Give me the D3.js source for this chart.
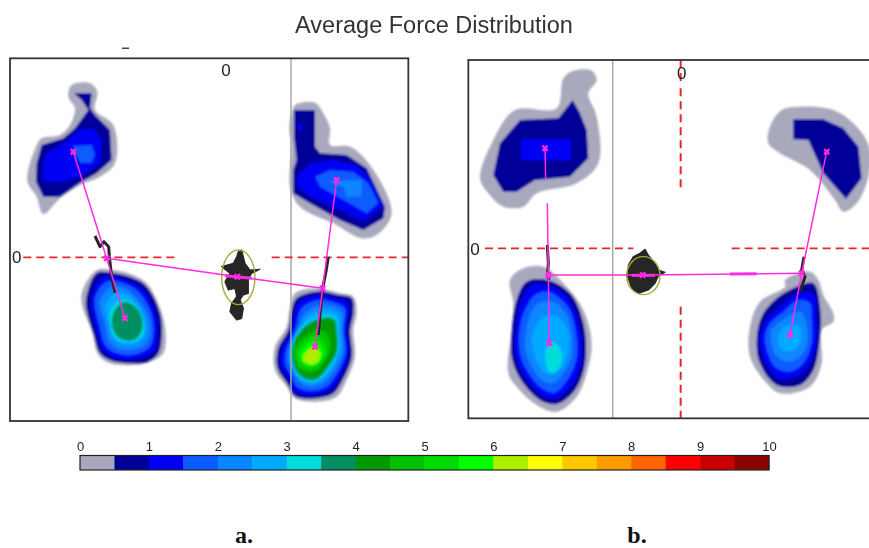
<!DOCTYPE html>
<html><head><meta charset="utf-8">
<script src="https://cdn.jsdelivr.net/npm/d3@7"></script>
<style>html,body{margin:0;padding:0;background:#fff;overflow:hidden}svg{display:block}</style>
</head><body>
<svg id="chart" width="869" height="548"></svg>
<script>
// Colour scale: 20 half-unit force bins from 0 to 10
const forceTicks = [0,1,2,3,4,5,6,7,8,9,10];
const forceBins = ["#a9a9bd","#000099","#0000f5","#0a5cff","#0a86ff","#00aaff","#00dcdc","#008f60","#009a00","#00c000","#00dc00","#00ff00","#aaf000","#ffff00","#ffc800","#ff9a00","#ff6400","#ff0000","#c80000","#8c0000"];

// Pressure contours in grid units (3 per px), [bin, outline]. Bottom-row grids start 540 units lower.
const aTopLeft = [
 [0,[[215,105],[270,100],[292,125],[285,180],[340,225],[345,340],[300,380],[240,405],[180,445],[130,492],[110,440],[82,392],[108,290],[125,265],[180,255],[210,225],[225,175],[205,140]]],
 [1,[[222,130],[275,130],[270,175],[285,195],[330,240],[335,330],[290,370],[245,395],[180,440],[130,440],[108,395],[110,340],[125,285],[190,265],[225,235],[265,180],[245,150]]],
 [2,[[140,310],[190,280],[240,240],[280,235],[305,270],[300,340],[240,380],[190,395],[130,395],[130,340]]],
 [3,[[222,288],[275,285],[285,315],[275,338],[240,338],[225,310]]]
];
const aTopRight = [
 [0,[[885,165],[945,158],[970,190],[990,235],[990,285],[1050,290],[1110,345],[1175,490],[1130,555],[1085,565],[1000,520],[900,470],[870,410],[875,290],[868,230],[878,180]]],
 [1,[[882,180],[945,180],[945,290],[960,310],[1040,315],[1100,355],[1155,470],[1150,505],[1090,540],[1020,510],[930,460],[880,430],[880,360],[890,330],[882,260]]],
 [2,[[893,222],[905,222],[905,240],[893,240]]],
 [2,[[890,380],[930,340],[1000,330],[1070,345],[1110,385],[1150,470],[1090,515],[1030,485],[930,440],[895,410]]],
 [3,[[945,380],[990,360],[1060,365],[1105,400],[1135,460],[1100,490],[1040,455],[960,410]]],
 [4,[[995,392],[1085,390],[1085,440],[1040,440],[1030,410],[995,400]]]
];
const aBottomLeft = [
 [0,[[245,190],[290,120],[340,120],[400,135],[440,160],[470,210],[495,290],[490,370],[450,395],[400,405],[330,400],[295,375],[275,300],[250,240]]],
 [1,[[258,210],[290,130],[340,130],[400,145],[440,170],[480,250],[485,320],[475,370],[445,395],[390,400],[330,390],[300,370],[280,310],[262,250]]],
 [2,[[275,200],[310,140],[390,155],[430,180],[465,250],[472,320],[460,365],[395,388],[335,380],[305,355],[290,305]]],
 [3,[[285,205],[320,155],[385,165],[420,190],[455,255],[460,320],[445,355],[395,375],[345,368],[315,345],[300,295]]],
 [4,[[300,215],[335,170],[380,178],[410,205],[445,260],[450,315],[435,345],[395,360],[350,355],[325,330],[315,285]]],
 [5,[[315,230],[345,190],[385,195],[415,225],[435,265],[438,310],[420,335],[390,345],[355,340],[335,320],[325,280]]],
 [6,[[330,245],[360,210],[395,215],[420,245],[432,280],[425,320],[395,335],[360,332],[340,315],[330,280]]],
 [7,[[338,255],[365,218],[395,222],[420,250],[428,285],[415,320],[385,332],[355,322],[338,295]]]
];
const aBottomRight = [
 [0,[[885,190],[950,175],[1020,190],[1060,200],[1070,250],[1060,300],[1065,380],[1040,450],[1010,500],[950,515],[885,505],[860,470],[825,420],[825,350],[860,290],[870,230]]],
 [1,[[890,205],[950,185],[1015,195],[1055,205],[1060,250],[1050,300],[1055,380],[1030,445],[1000,490],[945,505],[885,498],[865,465],[832,410],[835,355],[865,300],[875,240]]],
 [2,[[895,220],[950,195],[1010,205],[1045,220],[1040,300],[1045,375],[1020,440],[990,480],[940,495],[885,485],[870,450],[842,405],[845,360],[875,300]]],
 [3,[[905,235],[955,210],[1005,218],[1035,235],[1032,300],[1037,370],[1012,430],[980,470],[935,483],[890,470],[875,440],[855,400],[858,360],[885,300]]],
 [4,[[915,250],[960,225],[1005,230],[1028,250],[1026,300],[1030,365],[1005,420],[970,460],[930,470],[895,455],[880,425],[865,390],[868,355],[890,305]]],
 [5,[[920,262],[965,240],[1005,245],[1020,265],[1020,310],[1022,360],[998,415],[960,452],[930,460],[895,445],[878,415],[868,375],[878,335],[905,285]]],
 [6,[[925,275],[975,255],[1005,262],[1014,310],[1015,360],[990,410],[955,450],[925,455],[892,435],[878,405],[872,370],[882,325],[905,290]]],
 [7,[[930,278],[975,262],[1003,268],[1011,310],[1012,360],[987,408],[952,447],[925,451],[895,432],[880,402],[875,365],[885,330],[908,295]]],
 [8,[[935,282],[980,266],[1002,272],[1009,320],[1009,360],[983,407],[945,443],[905,432],[883,398],[878,360],[890,322],[915,298]]],
 [9,[[925,312],[960,298],[985,315],[992,350],[975,392],[945,424],[912,424],[887,398],[882,362],[898,332]]],
 [10,[[918,330],[950,318],[975,340],[980,365],[960,402],[930,416],[902,404],[890,370]]],
 [11,[[922,345],[948,335],[968,355],[968,382],[948,405],[920,405],[902,385],[906,362]]],
 [12,[[925,360],[945,352],[960,370],[952,395],[930,402],[908,388]]]
];
const bTopLeft = [
 [0,[[310,85],[340,62],[395,62],[410,90],[385,130],[410,200],[415,340],[350,400],[230,430],[190,470],[130,470],[85,430],[60,385],[100,270],[165,180],[290,175]]],
 [1,[[338,150],[360,190],[380,240],[385,325],[330,380],[225,390],[170,425],[130,425],[100,375],[120,280],[180,210],[295,205]]],
 [2,[[183,268],[333,268],[333,330],[183,330]]]
];
const bTopRight = [
 [0,[[930,230],[965,180],[1020,170],[1120,180],[1180,220],[1227,290],[1225,380],[1190,460],[1150,485],[1125,450],[1050,360],[960,310],[925,280]]],
 [1,[[1000,208],[1090,208],[1150,235],[1195,290],[1205,385],[1158,447],[1090,370],[1045,270],[1000,268]]]
];
const bBottomLeft = [
 [0,[[150,150],[190,115],[250,110],[320,170],[370,240],[395,340],[380,430],[350,500],[290,545],[230,525],[170,470],[145,430],[155,300],[160,220]]],
 [1,[[170,210],[200,155],[260,150],[330,190],[370,280],[375,400],[345,480],[290,522],[240,510],[180,445],[155,380],[155,310]]],
 [2,[[185,210],[215,165],[260,165],[320,200],[355,280],[365,390],[335,465],[290,505],[245,495],[190,435],[165,370],[170,280]]],
 [3,[[195,240],[225,195],[265,185],[320,225],[345,290],[350,385],[325,445],[285,488],[245,475],[200,420],[180,370],[180,290]]],
 [4,[[205,270],[235,220],[280,215],[320,255],[335,310],[335,380],[310,430],[280,460],[245,450],[210,400],[195,355]]],
 [5,[[225,290],[260,255],[300,265],[325,310],[322,380],[300,420],[275,435],[245,420],[225,380],[215,330]]],
 [6,[[258,360],[275,335],[297,350],[307,385],[292,422],[270,427],[258,400]]]
];
const bBottomRight = [
 [0,[[975,150],[1050,125],[1075,150],[1090,195],[1120,250],[1120,275],[1085,300],[1085,400],[1050,470],[960,490],[920,460],[870,380],[870,290],[900,215],[975,170]]],
 [1,[[950,205],[1010,170],[1060,160],[1080,230],[1080,320],[1060,420],[1020,465],[950,465],[900,400],[890,330],[905,260]]],
 [2,[[965,225],[1015,190],[1060,190],[1068,250],[1070,330],[1050,400],[1010,440],[955,445],[915,395],[900,330],[915,275]]],
 [3,[[970,245],[1015,210],[1050,220],[1055,260],[1055,340],[1030,400],[990,425],[950,415],[925,375],[915,320],[930,280]]],
 [4,[[975,265],[1020,245],[1040,280],[1040,345],[1015,385],[985,395],[955,385],[935,345],[935,300]]],
 [5,[[975,290],[1015,285],[1025,320],[1010,355],[985,365],[960,355],[955,320]]]
];

// Centre-of-pressure paths (grid units on the shared panel y axis)
const aCop = [[[220,305],[320,625],[375,805]],[[1010,390],[968,715],[945,890]],[[320,625],[712,680],[968,715]]];
const bCop = [[[255,295],[257,385]],[[262,460],[265,675],[268,880]],[[1100,305],[1025,670],[990,855]],[[265,675],[548,675],[1025,670]]];
const aCopHeavy = [[[675,677],[755,685]]];
const bCopHeavy = [[[515,676],[585,676]],[[810,672],[890,671]]];
const aMarkers = [[220,305],[375,805],[1010,390],[945,890],[320,625],[968,715],[712,680]];
const bMarkers = [[255,295],[268,880],[1100,305],[990,855],[265,675],[1025,670],[548,675]];

// Sway traces and the dense regions they fill
const aTraces = [
 [[285,558],[300,590],[312,575],[326,590],[328,620],[335,680],[345,728]],
 [[985,620],[978,665],[968,715],[960,790],[955,855]]
];
const bTraces = [
 [[262,585],[265,640],[262,680],[268,690]],
 [[1032,620],[1025,660],[1035,680],[1020,725]]
];
const aSwayBody = [[715,605],[725,600],[735,640],[750,660],[780,658],[755,670],[745,685],[745,730],[730,735],[720,750],[730,775],[725,805],[710,810],[690,785],[695,760],[710,740],[705,715],[685,720],[675,695],[690,670],[665,650],[700,640],[710,620]];
const bSwayBody = [[520,620],[540,610],[555,598],[565,615],[585,640],[595,660],[615,667],[595,678],[585,700],[565,720],[535,730],[515,715],[503,680],[505,645]];
const aEllipses = [[715,682,50,82]];
const bEllipses = [[550,677,50,57]];

// Panels: grid-unit spans mapped to the page
const gridDomain = [0,1260];
const panels = [
 {xr:[0,420],  box:[30,1225,25,1113], vline:873, hDash:[[70,525],[815,1225]], hY:622, vDash:[], zeroTop:[678,60], zeroLeft:[50,620],
  blobs:[[aTopLeft,0],[aTopRight,0],[aBottomLeft,540],[aBottomRight,540]], cop:aCop, heavy:aCopHeavy, mk:aMarkers, tr:aTraces, body:aSwayBody, el:aEllipses},
 {xr:[460,880],box:[25,1260,30,1105], vline:458, hDash:[[75,520],[815,1227]], hY:595, vDash:[[30,95],[115,420],[770,1105]], zeroTop:[665,68], zeroLeft:[45,598],
  blobs:[[bTopLeft,0],[bTopRight,0],[bBottomLeft,540],[bBottomRight,540]], cop:bCop, heavy:bCopHeavy, mk:bMarkers, tr:bTraces, body:bSwayBody, el:bEllipses}
];
const y = d3.scaleLinear().domain(gridDomain).range([50,470]);

const svg = d3.select("#chart");
const defs = svg.append("defs");
defs.append("filter").attr("id","soft").attr("x","-5%").attr("y","-5%").attr("width","110%").attr("height","110%")
  .append("feGaussianBlur").attr("stdDeviation",0.8);
defs.append("filter").attr("id","softText").append("feGaussianBlur").attr("stdDeviation",0.35);

svg.append("text").attr("x",434).attr("y",33).attr("text-anchor","middle").attr("filter","url(#softText)")
  .attr("font-family","'Liberation Sans',Arial,sans-serif").attr("font-size",23.5).attr("fill","#333")
  .text("Average Force Distribution");
svg.append("rect").attr("x",122).attr("y",47.5).attr("width",7).attr("height",1.5).attr("fill","#444");

const smooth = d3.line().curve(d3.curveCatmullRomClosed.alpha(0.5));
const sharp = d3.line().curve(d3.curveLinearClosed);

panels.forEach(p=>{
  const x = d3.scaleLinear().domain(gridDomain).range(p.xr);
  const blobs = svg.append("g").attr("filter","url(#soft)");

  p.blobs.forEach(([levels,off])=>{
    blobs.selectAll(null).data(levels).join("path")
      .attr("d",d=>{
        const pts = d[1].map(q=>[x(q[0]),y(q[1]+off)]);
        return (off>0||d[0]===0) ? smooth(pts) : sharp(pts);
      })
      .attr("fill",d=>forceBins[d[0]]);
  });

  const g = svg.append("g");
  g.append("line").attr("x1",x(p.vline)).attr("x2",x(p.vline)).attr("y1",y(p.box[2])).attr("y2",y(p.box[3]))
    .attr("stroke","#a8a8a8").attr("stroke-width",1.5);

  g.selectAll(null).data(p.hDash).join("line")
    .attr("x1",d=>x(d[0])).attr("x2",d=>x(d[1])).attr("y1",y(p.hY)).attr("y2",y(p.hY))
    .attr("stroke","#e8262e").attr("stroke-width",1.6).attr("stroke-dasharray","8 5");
  g.selectAll(null).data(p.vDash).join("line")
    .attr("x1",x(662)).attr("x2",x(662)).attr("y1",d=>y(d[0])).attr("y2",d=>y(d[1]))
    .attr("stroke","#e8262e").attr("stroke-width",2).attr("stroke-dasharray","8 5");

  g.append("rect").attr("x",x(p.box[0])).attr("y",y(p.box[2]))
    .attr("width",x(p.box[1])-x(p.box[0])).attr("height",y(p.box[3])-y(p.box[2]))
    .attr("fill","none").attr("stroke","#333").attr("stroke-width",1.8);

  const open = d3.line().x(d=>x(d[0])).y(d=>y(d[1])).curve(d3.curveLinear);
  g.append("path").attr("d",sharp(p.body.map(d=>[x(d[0]),y(d[1])])))
    .attr("fill","#262626").attr("stroke","#262626").attr("stroke-width",1.2).attr("stroke-linejoin","round");
  g.selectAll(null).data(p.el).join("ellipse")
    .attr("cx",d=>x(d[0])).attr("cy",d=>y(d[1])).attr("rx",d=>x(d[2])-x(0)).attr("ry",d=>y(d[3])-y(0))
    .attr("fill","none").attr("stroke","#a8a83a").attr("stroke-width",1.4);
  g.selectAll(null).data(p.tr).join("path").attr("d",open)
    .attr("fill","none").attr("stroke","#262626").attr("stroke-width",3).attr("stroke-linejoin","round");
  g.selectAll(null).data(p.cop).join("path").attr("d",open)
    .attr("fill","none").attr("stroke","#ff2be0").attr("stroke-width",1.5);
  g.selectAll(null).data(p.heavy).join("path").attr("d",open)
    .attr("fill","none").attr("stroke","#ff2be0").attr("stroke-width",3);
  g.selectAll(null).data(p.mk).join("path")
    .attr("d",d3.symbol().type(d3.symbolCross).size(30))
    .attr("transform",d=>`translate(${x(d[0])},${y(d[1])}) rotate(45)`)
    .attr("fill","#ff2be0");

  const zero = svg.append("g").attr("filter","url(#softText)")
    .attr("font-family","'Liberation Sans',Arial,sans-serif").attr("font-size",17).attr("fill","#222");
  [p.zeroTop,p.zeroLeft].forEach(z=>{
    zero.append("text").attr("x",x(z[0])).attr("y",y(z[1])).attr("dy","0.35em").attr("text-anchor","middle").text("0");
  });
});

// Force legend
const fx = d3.scaleLinear().domain([0,10]).range([80,769]);
const legend = svg.append("g");
legend.selectAll("rect").data(forceBins).join("rect")
  .attr("x",(d,i)=>fx(i/2)).attr("y",455.5).attr("width",(d,i)=>fx((i+1)/2)-fx(i/2)+0.4).attr("height",14.5)
  .attr("fill",d=>d);
legend.append("rect").attr("x",fx(0)).attr("y",455.5).attr("width",fx(10)-fx(0)).attr("height",14.5)
  .attr("fill","none").attr("stroke","#222").attr("stroke-width",1.2);
const axis = svg.append("g").attr("transform","translate(0,452.5)").attr("filter","url(#softText)")
  .call(d3.axisTop(fx).tickValues(forceTicks).tickSize(0).tickPadding(2).tickFormat(d3.format("d")));
axis.select(".domain").remove();
axis.selectAll("text").attr("font-family","'Liberation Sans',Arial,sans-serif").attr("font-size",13).attr("fill","#222");

const caption = [["a.",244],["b.",637]];
svg.selectAll(null).data(caption).join("text")
  .attr("x",d=>d[1]).attr("y",542.5).attr("text-anchor","middle")
  .attr("font-family","'Liberation Serif','Times New Roman',serif").attr("font-weight","bold").attr("font-size",24).attr("fill","#111")
  .text(d=>d[0]);
</script>
</body></html>
